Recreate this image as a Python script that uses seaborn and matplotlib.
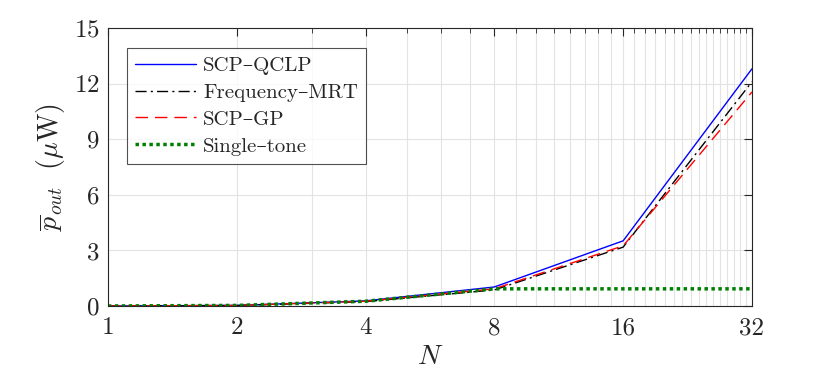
import numpy as np
import pandas as pd
import matplotlib
matplotlib.use('Agg')
import matplotlib.pyplot as plt
import matplotlib.ticker as mticker
import seaborn as sns

N = [1, 2, 4, 8, 16, 32]
scp_qclp = [0.005, 0.035, 0.28, 1.03, 3.52, 12.8]
freq_mrt = [0.005, 0.03, 0.24, 0.87, 3.18, 12.1]
scp_gp = [0.005, 0.032, 0.26, 0.93, 3.25, 11.55]
single_tone = [0.005, 0.035, 0.26, 0.93, 0.93, 0.93]

sns.set_theme(style="white")
plt.rcParams['font.family'] = ['cmr10', 'DejaVu Serif']
plt.rcParams['mathtext.fontset'] = 'cm'
plt.rcParams['axes.formatter.use_mathtext'] = True
plt.rcParams['axes.unicode_minus'] = False

fig = plt.figure(figsize=(8.3, 3.76), dpi=100)
ax = fig.add_axes([0.130, 0.186, 0.776, 0.7395])

sns.lineplot(x=N, y=scp_qclp, ax=ax, color='#0000ff', lw=1.0, label='SCP–QCLP')
sns.lineplot(x=N, y=freq_mrt, ax=ax, color='black', lw=1.0, label='Frequency–MRT')
sns.lineplot(x=N, y=scp_gp, ax=ax, color='#ff0000', lw=1.0, label='SCP–GP')
sns.lineplot(x=N, y=single_tone, ax=ax, color='#008000', lw=2.5, label='Single–tone')
lines = ax.get_lines()
lines[1].set_dashes([8, 3, 1.5, 3])
lines[2].set_dashes([9, 5])
lines[3].set_dashes([1, 1])

ax.set_xscale('log', base=2)
ax.set_xlim(1, 32)
ax.set_ylim(0, 15)
ax.set_xticks(N)
ax.set_xticklabels([str(n) for n in N])
ax.xaxis.set_minor_locator(mticker.FixedLocator([n for n in range(1, 33) if n not in N]))
ax.xaxis.set_minor_formatter(mticker.NullFormatter())
ax.set_yticks([0, 3, 6, 9, 12, 15])

ax.grid(True, which='both', color='#e3e3e3', lw=0.8)
ax.tick_params(which='both', direction='in', top=True, right=True, colors='#262626',
               labelsize=18, labelcolor='#262626')
ax.tick_params(which='major', length=6, width=0.8)
ax.tick_params(which='minor', length=3.5, width=0.6)
ax.tick_params(axis='x', which='major', pad=8)
ax.tick_params(axis='y', which='major', pad=6)
for s in ax.spines.values():
    s.set_color('#262626')
    s.set_linewidth(0.8)

ax.set_xlabel('$N$', fontsize=20, color='#262626')
ax.set_ylabel(r'$\overline{p}_{out}\ \ (\mu\mathrm{W})$', fontsize=20, color='#262626')
ax.xaxis.set_label_coords(0.5, -0.135)
ax.yaxis.set_label_coords(-0.064, 0.5)

leg = ax.legend(loc='upper left', bbox_to_anchor=(0.0295, 0.928), borderaxespad=0,
                fontsize=15, frameon=True, fancybox=False, handlelength=2.9,
                borderpad=0.4, labelspacing=0.4, handletextpad=0.35)
leg.get_frame().set_edgecolor('#262626')
leg.get_frame().set_linewidth(0.8)
for t in leg.get_texts():
    t.set_color('#262626')

fig.savefig('out.png', dpi=100)
